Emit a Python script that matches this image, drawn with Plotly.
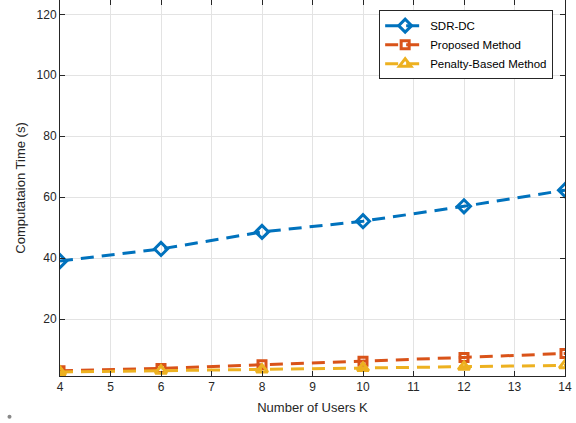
import plotly.graph_objects as go

# Computation time versus number of users
users = [4, 6, 8, 10, 12, 14]
sdr_dc = [39.0, 43.0, 48.6, 52.1, 57.0, 62.3]
proposed = [3.0, 3.8, 5.0, 6.1, 7.4, 8.7]
penalty = [2.6, 3.0, 3.4, 3.9, 4.3, 4.8]

x_ticks = list(range(4, 15))
y_ticks = [20, 40, 60, 80, 100, 120]

series = [
    ("SDR-DC", sdr_dc, "#0072BD", "diamond-open", 10),
    ("Proposed Method", proposed, "#D95319", "square-open", 8),
    ("Penalty-Based Method", penalty, "#EDB120", "triangle-up-open", 10),
]

fig = go.Figure()
for name, vals, color, symbol, size in series:
    fig.add_trace(go.Scatter(
        x=users, y=vals, name=name, mode="lines+markers",
        line=dict(color=color, width=3, dash="13px,8px"),
        marker=dict(symbol=symbol, size=size, color=color,
                    line=dict(color=color, width=3)),
    ))

axis_common = dict(
    showline=True, linecolor="#262626", linewidth=1,
    mirror="ticks", ticks="inside", ticklen=5, tickcolor="#262626",
    showgrid=True, gridcolor="#E3E3E3", gridwidth=1,
    zeroline=False,
    tickfont=dict(family="Liberation Sans, Arial, sans-serif", size=12, color="#262626"),
    title_font=dict(family="Liberation Sans, Arial, sans-serif", size=13, color="#262626"),
)

fig.update_xaxes(range=[4, 14], tickvals=x_ticks, title_text="Number of Users K",
                 title_standoff=9, **axis_common)
fig.update_yaxes(range=[1.3, 124.7], tickvals=y_ticks, title_text="Computataion Time (s)",
                 title_standoff=8, **axis_common)

fig.update_layout(
    width=576, height=423,
    margin=dict(l=60, r=11, t=0, b=47),
    paper_bgcolor="white", plot_bgcolor="white",
    font=dict(family="Liberation Sans, Arial, sans-serif", color="#262626"),
    legend=dict(
        x=0.632, y=0.973, xanchor="left", yanchor="top",
        bgcolor="white", bordercolor="#262626", borderwidth=1,
        font=dict(family="Liberation Sans, Arial, sans-serif", size=11.5, color="#000000"),
        tracegroupgap=0, itemwidth=40,
    ),
    showlegend=True,
)

# small mark in the lower-left corner
fig.add_shape(type="circle", xref="paper", yref="paper",
              x0=-0.104, x1=-0.096, y0=-0.114, y1=-0.103,
              fillcolor="#888888", line=dict(width=0))

fig.write_html("out.html")
